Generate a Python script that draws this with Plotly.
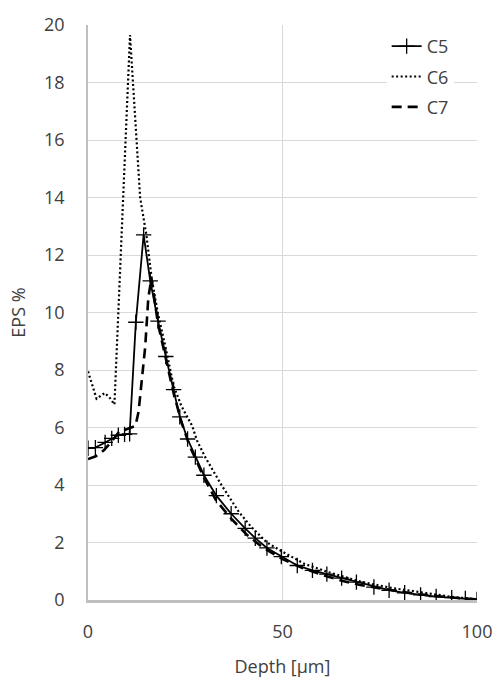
import plotly.graph_objects as go

# ---- data ----
depth_c5 = [0, 1.9, 4.4, 6.1, 7.8, 9.4, 10.7, 12.3, 14.3, 16.0, 18.0, 20.0, 22.0, 23.6,
            25.6, 27.6, 29.8, 33.0, 36.8, 40.4, 43.0, 46.0, 49.7, 53.8, 57.7, 61.4,
            65.2, 69.0, 73.5, 77.4, 81.4, 85.5, 89.5, 93.5, 97.0, 100.0]
eps_c5 = [5.28, 5.30, 5.48, 5.62, 5.73, 5.76, 5.78, 9.66, 12.7, 11.1, 9.7, 8.47, 7.32, 6.37,
          5.6, 4.97, 4.34, 3.63, 3.0, 2.49, 2.15, 1.81, 1.51, 1.2, 1.03, 0.9,
          0.76, 0.62, 0.45, 0.34, 0.25, 0.18, 0.12, 0.08, 0.05, 0.02]

depth_c6 = [0, 2.2, 4.3, 5.5, 6.8, 8.4, 10.8, 13.4, 15.0, 16.4, 18.0, 20.0, 22.0, 24.0,
            26.8, 28.0, 30.0, 34.3, 38.8, 42.0, 46.0, 50.0, 55.6, 61.5, 65.7, 70.0,
            78.0, 86.5, 93.0, 100.0]
eps_c6 = [7.95, 7.0, 7.2, 7.05, 6.8, 12.2, 19.65, 14.0, 12.7, 11.15, 9.95, 8.75, 7.45, 6.75,
          6.05, 5.55, 5.0, 4.0, 3.06, 2.54, 2.0, 1.68, 1.26, 0.98, 0.8, 0.64,
          0.42, 0.24, 0.12, 0.02]

depth_c7 = [0, 2, 4, 6, 8, 10, 12.2, 13.0, 13.9, 14.7, 15.5, 16.3, 18, 20, 22, 24, 26, 28,
            30, 33, 37, 41, 45, 50, 55, 60, 65, 70, 75, 80, 85, 90, 95, 100]
eps_c7 = [4.9, 5.0, 5.2, 5.5, 5.85, 5.95, 6.05, 6.55, 7.7, 8.8, 10.5, 11.2, 9.6, 8.35, 7.2,
          6.2, 5.4, 4.8, 4.2, 3.45, 2.8, 2.25, 1.82, 1.42, 1.12, 0.88, 0.68, 0.52, 0.4,
          0.3, 0.2, 0.13, 0.07, 0.02]

series_names = ["C5", "C6", "C7"]
x_ticks = [0, 50, 100]
y_ticks = [0, 2, 4, 6, 8, 10, 12, 14, 16, 18, 20]

FONT = "Open Sans"
TXT = "#404040"

fig = go.Figure()
fig.add_trace(go.Scatter(
    x=depth_c5, y=eps_c5, name=series_names[0], mode="lines+markers", legendgroup="g1",
    line=dict(color="black", width=1.8),
    marker=dict(symbol="cross-thin", size=11, line=dict(color="black", width=1.3), color="black"),
))
fig.add_trace(go.Scatter(
    x=depth_c6, y=eps_c6, name=series_names[1], mode="lines", legendgroup="g2",
    line=dict(color="black", width=2.2, dash="2px,2.5px"),
))
fig.add_trace(go.Scatter(
    x=depth_c7, y=eps_c7, name=series_names[2], mode="lines", legendgroup="g3",
    line=dict(color="black", width=2.6, dash="10px,6px"),
))

fig.update_layout(
    width=504, height=687,
    margin=dict(l=88, r=17, t=20, b=77),
    paper_bgcolor="white", plot_bgcolor="white",
    font=dict(family=FONT, size=18, color=TXT),
    showlegend=True,
    legend=dict(
        x=0.94, y=0.995, xanchor="right", yanchor="top",
        bgcolor="white", borderwidth=0,
        font=dict(family=FONT, size=18, color=TXT),
        tracegroupgap=4,
        itemwidth=30,
    ),
)
fig.update_xaxes(
    range=[0, 100], tickvals=x_ticks, ticktext=[str(v) for v in x_ticks],
    showgrid=True, gridcolor="#d9d9d9", gridwidth=1.3,
    showline=True, linecolor="#bfbfbf", linewidth=2.5,
    zeroline=False, ticks="", ticklabelstandoff=14,
    title=dict(text="Depth [µm]", font=dict(family=FONT, size=18, color=TXT), standoff=19),
)
fig.update_yaxes(
    range=[0, 20], tickvals=y_ticks, ticktext=[str(v) for v in y_ticks],
    showgrid=True, gridcolor="#d9d9d9", gridwidth=1.3,
    showline=True, linecolor="#bfbfbf", linewidth=1.5,
    zeroline=False, ticks="", ticklabelstandoff=18,
    title=dict(text="EPS %", font=dict(family=FONT, size=18, color=TXT), standoff=14),
)

fig.write_html(
    "out.html",
    config={"displayModeBar": False},
    post_script="document.body.style.margin='0';document.body.style.overflow='hidden';",
)
